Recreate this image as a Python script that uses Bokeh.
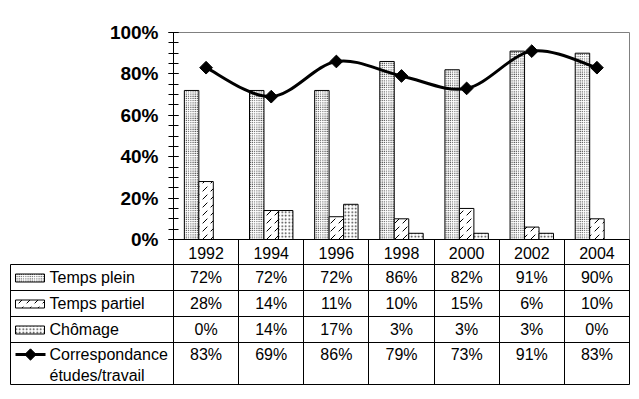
import numpy as np
from bokeh.plotting import figure
from bokeh.models import Range1d, FixedTicker, LinearAxis
from bokeh.layouts import column
from bokeh.embed import file_html
from bokeh.resources import INLINE
from bokeh.core.properties import value

# ---------------- data ----------------
years = ["1992", "1994", "1996", "1998", "2000", "2002", "2004"]
temps_plein = [72, 72, 72, 86, 82, 91, 90]
temps_partiel = [28, 14, 11, 10, 15, 6, 10]
chomage = [0, 14, 17, 3, 3, 3, 0]
correspondance = [83, 69, 86, 79, 73, 91, 83]
series_names = ["Temps plein", "Temps partiel", "Chômage"]
line_name = ["Correspondance", "études/travail"]
y_ticks = [0, 20, 40, 60, 80, 100]
y_minor = list(range(0, 101, 5))

# ---------------- styles / layout ----------------
FONT = "Liberation Sans"
W = 639
FL, FW = 173, 456          # frame left / width (top chart)
FT, FH, XB = 32, 207, 25   # top border, frame height, header row
TL = 10                    # table left edge
n = len(years)
ppu = FW / n               # pixels per category
styles = [
    dict(hatch_pattern="dot", hatch_scale=2.2, hatch_weight=0.5, hatch_color="black"),
    dict(hatch_pattern="right_diagonal_dash", hatch_scale=8, hatch_weight=1, hatch_color="black"),
    dict(hatch_pattern="dot", hatch_scale=3.5, hatch_weight=0.5, hatch_color="#333333"),
]

# ---------------- chart ----------------
p = figure(width=W, height=FT + FH + XB, x_range=Range1d(0, n), y_range=Range1d(0, 100),
           x_axis_type=None, y_axis_type=None, output_backend="svg", toolbar_location=None,
           min_border_left=FL, min_border_right=W - FL - FW, min_border_top=FT,
           min_border_bottom=XB, frame_align=False)
p.outline_line_color = "#808080"
p.outline_line_width = 1
p.background_fill_color = "white"
p.border_fill_color = "white"

yax = LinearAxis(ticker=FixedTicker(ticks=y_ticks, minor_ticks=y_minor),
                 major_label_overrides={t: f"{t}%" for t in y_ticks},
                 major_tick_in=5, major_tick_out=5, minor_tick_in=5, minor_tick_out=5,
                 major_label_standoff=10, axis_line_color="black",
                 major_tick_line_color="black", minor_tick_line_color="black",
                 major_label_text_font=FONT, major_label_text_font_size="19px",
                 major_label_text_font_style="bold", major_label_text_color="black")
p.add_layout(yax, "left")

centers = [i + 0.5 for i in range(n)]
xax = LinearAxis(ticker=FixedTicker(ticks=centers, minor_ticks=list(range(n + 1))),
                 major_label_overrides={c: y for c, y in zip(centers, years)},
                 major_tick_in=0, major_tick_out=0, minor_tick_in=0, minor_tick_out=XB,
                 minor_tick_line_color="black", axis_line_color="black",
                 major_label_standoff=-18,
                 major_label_text_font=FONT, major_label_text_font_size="16px",
                 major_label_text_color="black")
p.add_layout(xax, "below")

bw = 1 / 4.5
offsets = [-bw, 0, bw]
xc = np.arange(n) + 0.5
for vals, off, st in zip([temps_plein, temps_partiel, chomage], offsets, styles):
    p.vbar(x=xc + off, top=vals, bottom=0, width=bw, fill_color="white",
           line_color="black", line_width=1, **st)

# smoothed line (Catmull-Rom -> cubic Bezier)
pts = np.column_stack([xc, np.array(correspondance, dtype=float)])
x0, y0, x1, y1, cx0, cy0, cx1, cy1 = ([] for _ in range(8))
for i in range(n - 1):
    P0 = pts[max(i - 1, 0)]
    P1 = pts[i]
    P2 = pts[i + 1]
    P3 = pts[min(i + 2, n - 1)]
    c1 = P1 + (P2 - P0) / 6
    c2 = P2 - (P3 - P1) / 6
    x0.append(P1[0]); y0.append(P1[1]); x1.append(P2[0]); y1.append(P2[1])
    cx0.append(c1[0]); cy0.append(c1[1]); cx1.append(c2[0]); cy1.append(c2[1])
p.bezier(x0=x0, y0=y0, x1=x1, y1=y1, cx0=cx0, cy0=cy0, cx1=cx1, cy1=cy1,
         line_color="black", line_width=3)
p.scatter(x=xc, y=correspondance, marker="square", angle=np.pi / 4, size=9,
          fill_color="black", line_color="black")

# ---------------- data table ----------------
TH = 120
xl = -(FL - TL) / ppu
q = figure(width=W, height=TH + 14, x_range=Range1d(xl, n), y_range=Range1d(0, TH),
           x_axis_type=None, y_axis_type=None, output_backend="svg", toolbar_location=None,
           min_border_left=TL, min_border_right=W - FL - FW, min_border_top=0,
           min_border_bottom=14, frame_align=False)
q.outline_line_color = "black"
q.outline_line_width = 1
q.background_fill_color = "white"
q.border_fill_color = "white"
q.grid.visible = False

row_tops = [120, 94, 68, 42]
row_bottoms = [94, 68, 42, 0]
q.hspan(y=row_bottoms[:-1], line_color="black", line_width=1)
q.vspan(x=list(range(n)), line_color="black", line_width=1)

def px(xp):
    return (xp - FL) / ppu

txt = dict(text_font=value(FONT), text_font_size="16px", text_color="black",
           text_baseline="middle")
for r, vals in enumerate([temps_plein, temps_partiel, chomage]):
    yc = (row_tops[r] + row_bottoms[r]) / 2
    q.text(x=list(xc), y=[yc] * n, text=[f"{v}%" for v in vals], text_align="center", **txt)
    q.text(x=[px(49)], y=[yc], text=[series_names[r]], text_align="left", **txt)
    q.quad(left=[px(15)], right=[px(44)], bottom=[yc - 4.5], top=[yc + 3.5],
           fill_color="white", line_color="black", line_width=1, **styles[r])

yl = row_tops[3] - 12
q.text(x=list(xc), y=[yl] * n, text=[f"{v}%" for v in correspondance], text_align="center", **txt)
q.text(x=[px(49)], y=[yl], text=[line_name[0]], text_align="left", **txt)
q.text(x=[px(49)], y=[yl - 21], text=[line_name[1]], text_align="left", **txt)
q.segment(x0=[px(15)], y0=[yl], x1=[px(45)], y1=[yl], line_color="black", line_width=3)
q.scatter(x=[px(30)], y=[yl], marker="square", angle=np.pi / 4, size=8,
          fill_color="black", line_color="black")

layout = column(p, q, spacing=0)
open("out.html", "w", encoding="utf-8").write(file_html(layout, INLINE))
